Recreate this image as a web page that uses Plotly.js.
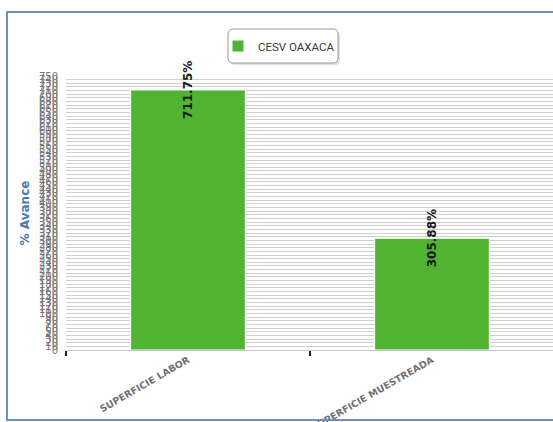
<!DOCTYPE html>
<html>
<head>
<meta charset="utf-8">
<script src="https://cdn.plot.ly/plotly-3.0.1.min.js"></script>
<style>
html,body{margin:0;padding:0;background:#fff;overflow:hidden;width:553px;height:422px;}
#chart{position:absolute;left:0;top:0;width:600px;height:422px;}
#frame{position:absolute;left:6px;top:11px;width:600px;height:406px;border:2px solid #6f8fb8;pointer-events:none;}
</style>
</head>
<body>
<div id="chart"></div>
<div id="frame"></div>
<script>
var categories = ["SUPERFICIE LABOR", "SUPERFICIE MUESTREADA"];
var values = [711.75, 305.88];
var labels = ["711.75%", "305.88%"];
var seriesName = "CESV OAXACA";

// pixel geometry helpers (layout only)
var W = 600, H = 422, ML = 66, MR = 46, MT = 76, MB = 72;
var PW = W - ML - MR, PH = H - MT - MB;
function px(x){ return (x - ML) / PW; }
function py(y){ return (H - MB - y) / PH; }
function roundRect(x0, y0, x1, y1, r){
  var rx = r / PW, ry = r / PH;
  var a = px(x0), b = px(x1), t = py(y0), u = py(y1);
  return 'M' + (a+rx) + ',' + t + ' L' + (b-rx) + ',' + t + ' Q' + b + ',' + t + ' ' + b + ',' + (t-ry) +
         ' L' + b + ',' + (u+ry) + ' Q' + b + ',' + u + ' ' + (b-rx) + ',' + u +
         ' L' + (a+rx) + ',' + u + ' Q' + a + ',' + u + ' ' + a + ',' + (u+ry) +
         ' L' + a + ',' + (t-ry) + ' Q' + a + ',' + t + ' ' + (a+rx) + ',' + t + ' Z';
}

var trace = {
  type: 'bar',
  x: categories,
  y: values,
  name: seriesName,
  marker: {color: '#50b432', line: {color: '#ffffff', width: 1}},
  showlegend: true,
  hoverinfo: 'none'
};

var annotations = categories.map(function(c, i){
  return {
    x: c, y: values[i], xref: 'x', yref: 'y',
    text: labels[i], showarrow: false, textangle: -90,
    xanchor: 'center', yanchor: 'middle',
    font: {family: 'DejaVu Sans', size: 12, color: '#1a1a1a', weight: 'bold'}
  };
});

var layout = {
  width: W, height: H,
  margin: {l: ML, r: MR, t: MT, b: MB, pad: 0},
  paper_bgcolor: '#ffffff',
  plot_bgcolor: '#ffffff',
  bargap: 0.53,
  showlegend: true,
  legend: {
    orientation: 'h', x: px(279), xanchor: 'center', y: py(46), yanchor: 'middle',
    bgcolor: 'rgba(0,0,0,0)', borderwidth: 0,
    font: {family: 'Roboto', size: 11.5, color: '#3a3a3a'}
  },
  xaxis: {
    type: 'category',
    range: [-0.5, 1.5],
    tickson: 'boundaries',
    ticks: 'outside', ticklen: 5, tickwidth: 2, tickcolor: '#222',
    showline: true, linecolor: '#c8c8c8', linewidth: 1,
    showgrid: false,
    tickangle: -30,
    tickfont: {family: 'DejaVu Sans', size: 9.5, color: '#707070', weight: 'bold'},
    fixedrange: true
  },
  yaxis: {
    range: [0, 750],
    tickmode: 'linear', tick0: 0, dtick: 10,
    showgrid: true, gridcolor: '#cfcfcf', gridwidth: 1,
    zeroline: false,
    showline: false,
    ticks: '',
    ticklabelstandoff: 7,
    tickfont: {family: 'DejaVu Sans', size: 10, color: '#777'},
    title: {text: '% Avance', standoff: 6,
            font: {family: 'DejaVu Sans', size: 12, color: '#4a7ab0', weight: 'bold'}},
    automargin: false,
    fixedrange: true
  },
  annotations: annotations,
  shapes: [
    {type: 'path', xref: 'paper', yref: 'paper', path: roundRect(230, 31, 340, 65, 5),
     fillcolor: 'rgba(0,0,0,0.12)', line: {width: 0}, layer: 'above'},
    {type: 'path', xref: 'paper', yref: 'paper', path: roundRect(228, 29, 338, 63, 5),
     fillcolor: '#ffffff', line: {color: '#9a9a9a', width: 1}, layer: 'above'}
  ]
};

Plotly.newPlot('chart', [trace], layout, {displayModeBar: false, staticPlot: true});
</script>
</body>
</html>
